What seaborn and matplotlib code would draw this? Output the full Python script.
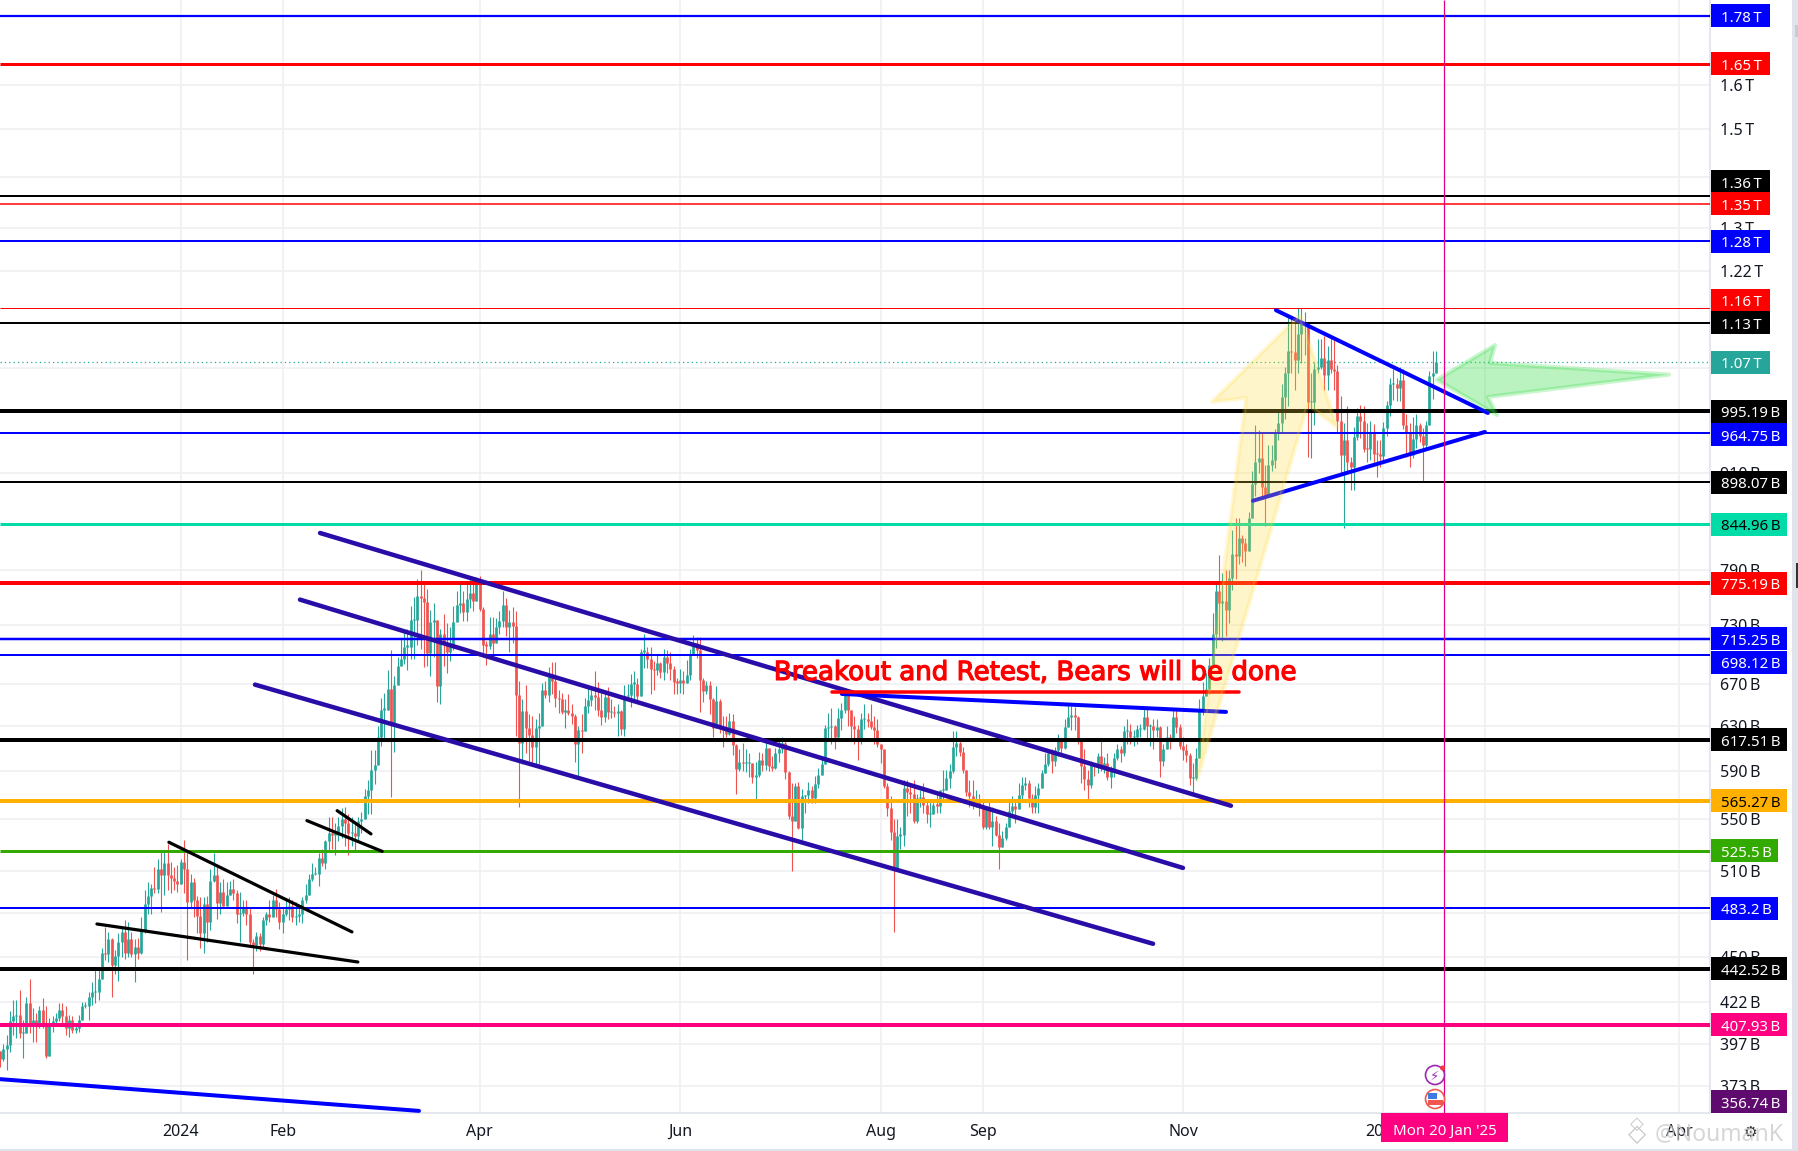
import numpy as np
import pandas as pd
import matplotlib
matplotlib.use("Agg")
import matplotlib.pyplot as plt
import matplotlib.dates as mdates
import matplotlib.patheffects as pe
from matplotlib.patches import Rectangle, Circle
from matplotlib.transforms import IdentityTransform
import seaborn as sns

# daily market cap candles, in billions, first candle is 2023-11-07
first_open = 393
closes = [
    388,394,396,410,413,414,403,403,421,408, 411,407,417,407,390,409,410,412,417,413,
    406,411,405,406,411,419,419,425,428,428, 436,453,452,462,445,451,460,467,453,462,
    452,457,453,468,486,492,498,497,512,507, 516,507,505,503,501,517,512,488,502,489,
    478,466,486,474,503,507,487,495,485,493, 497,494,479,480,484,479,460,458,464,459,
    475,479,477,489,483,474,479,483,485,477, 478,479,489,493,504,508,508,520,516,533,
    539,538,538,545,550,547,539,539,537,549, 550,569,574,591,595,620,645,645,665,632,
    669,687,694,707,707,735,735,761,759,754, 700,733,735,668,720,710,701,708,733,751,
    753,744,758,764,756,776,747,709,708,720, 711,727,734,751,727,733,729,659,615,644,
    628,622,611,628,630,664,659,678,673,656, 655,643,645,642,639,614,626,625,649,654,
    659,657,645,638,657,643,643,642,644,627, 658,659,670,670,658,702,702,694,684,683,
    690,681,696,690,684,672,671,674,671,678, 699,711,704,674,663,669,655,628,653,627,
    626,623,635,613,592,598,597,597,597,585, 587,600,595,610,594,593,606,609,615,589,
    553,549,577,543,569,570,574,567,579,587, 596,628,629,630,620,637,645,660,645,630,
    627,617,636,636,635,629,626,614,609,577, 559,540,511,537,538,576,572,571,549,567,
    568,562,554,554,562,561,574,574,584,590, 611,615,607,591,572,569,562,564,561,544,
    560,544,549,538,528,535,544,557,561,558, 570,578,580,567,560,570,576,588,596,606,
    599,608,619,610,629,638,640,638,618,594, 583,578,597,594,603,593,597,585,591,601,
    609,606,625,625,620,620,627,627,638,630, 630,626,629,599,609,620,618,638,629,612,
    608,604,584,584,601,645,658,665,688,720, 766,753,755,746,781,809,806,828,822,813,
    852,896,925,930,892,882,921,928,965,979, 1016,1052,1086,1085,1072,1113,1130,1132,1009,1009,
    1058,1062,1075,1050,1073,1058,1056,982,934,955, 925,918,959,989,981,943,942,966,936,935,
    933,972,1005,1035,1035,1029,1042,976,964,934, 956,976,960,948,976,1048,1052,1070,
]
highs = [
    393,397,402,416,423,423,429,411,425,436, 418,415,419,424,419,412,413,415,421,421,
    419,414,413,409,414,422,422,428,434,444, 444,456,470,467,463,455,466,470,475,474,
    467,462,463,477,496,502,501,513,519,526, 526,531,517,513,515,519,534,526,508,505,
    492,491,491,492,512,524,515,502,504,502, 503,504,496,495,489,489,484,462,467,466,
    477,481,489,493,497,488,484,490,491,489, 488,485,491,501,508,516,513,524,527,534,
    552,552,547,552,559,560,554,552,549,552, 556,575,582,608,608,630,656,661,683,704,
    677,696,716,723,725,750,760,780,790,777, 769,746,753,725,725,741,732,727,750,766,
    777,766,774,780,778,782,783,749,713,738, 738,737,745,766,759,746,749,745,673,655,
    669,641,639,636,642,671,673,686,691,691, 664,661,655,660,650,641,630,641,656,667,
    668,682,672,662,661,667,655,649,650,645, 669,670,679,682,675,705,720,707,707,692,
    698,691,705,704,702,687,675,684,682,693, 705,719,717,717,675,673,673,656,668,655,
    639,639,642,641,614,609,615,609,606,597, 598,607,606,616,610,603,610,616,620,616,
    590,580,580,581,575,566,581,577,586,593, 603,631,642,647,631,647,651,664,664,645,
    639,631,642,650,642,650,639,636,614,609, 580,569,550,550,544,582,582,580,582,571,
    574,580,566,564,566,571,574,591,591,596, 625,625,617,611,591,582,582,574,571,566,
    561,566,560,553,547,541,547,566,569,564, 580,585,585,582,571,577,580,591,606,609,
    609,611,623,617,636,650,649,648,639,617, 609,591,599,597,606,617,602,606,594,606,
    614,612,630,636,632,626,631,632,648,648, 632,636,636,630,614,630,623,647,645,632,
    620,614,606,597,610,655,672,680,695,742, 775,808,787,790,790,838,852,852,832,828,
    860,912,976,969,964,920,948,948,970,995, 1035,1062,1144,1141,1141,1157,1157,1150,1134,1052,
    1070,1105,1105,1111,1095,1108,1108,1065,1018,979, 1003,932,973,1000,1005,1003,979,981,977,955,
    955,980,1010,1045,1058,1045,1062,1058,991,979, 987,991,979,972,981,1055,1087,1087,
]
lows = [
    384,387,382,392,402,400,400,389,403,403, 398,398,406,406,389,390,404,408,410,408,
    402,401,403,403,404,411,418,411,420,421, 423,436,448,447,425,439,435,450,449,450,
    450,434,449,452,466,479,479,494,494,481, 493,496,494,496,495,501,494,448,484,477,
    466,456,453,460,468,502,476,479,486,486, 493,489,473,460,478,472,457,439,454,454,
    457,472,474,477,477,469,466,478,475,474, 472,474,473,487,493,503,507,499,514,512,
    525,527,522,533,535,529,522,529,526,532, 539,554,554,554,579,595,612,616,645,568,
    607,669,687,689,683,694,694,709,705,686, 687,677,696,652,650,687,680,692,704,733,
    742,734,734,748,745,756,745,696,688,705, 694,712,720,727,718,701,711,621,560,596,
    606,599,598,596,596,634,656,652,660,648, 642,641,628,640,632,598,583,606,626,642,
    649,645,639,631,634,636,637,638,621,622, 621,654,648,652,653,660,685,685,660,664,
    678,675,674,680,674,660,660,661,660,671, 674,698,695,643,652,660,641,620,628,624,
    611,620,622,604,571,590,590,589,585,580, 565,585,590,591,590,590,592,598,606,583,
    550,510,550,542,534,555,563,563,563,576, 588,597,617,614,609,617,626,642,630,617,
    614,600,614,627,629,627,614,611,597,576, 553,534,467,514,527,529,553,555,547,547,
    560,555,547,544,555,555,555,566,574,576, 588,603,603,588,569,560,558,560,553,542,
    542,542,529,537,512,529,534,544,553,547, 560,566,574,560,555,555,555,576,588,594,
    588,594,603,606,609,629,626,626,614,580, 574,565,576,586,588,590,588,582,576,585,
    600,598,603,614,614,612,614,620,626,617, 612,609,620,585,594,609,609,624,624,609,
    600,598,578,569,582,601,640,660,660,695, 706,717,713,718,732,768,780,797,800,795,
    838,853,880,910,880,843,885,912,916,955, 965,985,1003,1052,1027,1052,1068,1080,932,930,
    976,1052,1058,1027,1027,1052,1027,965,910,840, 910,888,888,955,958,938,925,928,925,905,
    918,925,960,988,1012,1011,1011,970,932,918, 930,944,952,898,943,976,1013,1052,
]

# horizontal levels: price, tag text, colour, line px, tag text colour, tag shift px
levels = [
    (1769, "1.78\u2009T", "#0000ff", 2.2, "white", 0),
    (1650, "1.65\u2009T", "#ff0000", 3, "white", 0),
    (1362, "1.36\u2009T", "#000000", 2, "white", 14),
    (1346, "1.35\u2009T", "#ff0000", 1.5, "white", 0),
    (1275, "1.28\u2009T", "#0000ff", 2, "white", 0),
    (1156, "1.16\u2009T", "#ff0000", 1, "white", 8),
    (1132, "1.13\u2009T", "#000000", 2, "white", 0),
    (995.19, "995.19\u2009B", "#000000", 4, "white", 0),
    (964.75, "964.75\u2009B", "#0000ff", 2, "white", -2),
    (898.07, "898.07\u2009B", "#000000", 2, "white", 0),
    (844.96, "844.96\u2009B", "#00dca8", 3, "black", 0),
    (775.19, "775.19\u2009B", "#ff0000", 4, "white", 0),
    (715.25, "715.25\u2009B", "#0000ff", 2.5, "white", 0),
    (698.12, "698.12\u2009B", "#0000ff", 2, "white", -7),
    (617.51, "617.51\u2009B", "#000000", 4, "white", 0),
    (565.27, "565.27\u2009B", "#ffb000", 4, "black", 0),
    (525.5, "525.5\u2009B", "#33aa00", 3, "white", 0),
    (483.2, "483.2\u2009B", "#0000ff", 2, "white", 0),
    (442.52, "442.52\u2009B", "#000000", 4, "white", 0),
    (407.93, "407.93\u2009B", "#ff0080", 4, "white", 0),
]
last_price = 1069
purple_price = 364.7

price_ticks = [1600, 1500, 1400, 1300, 1220, 1060, 910, 790, 730, 670, 630, 590, 550, 510, 480, 450, 422, 397, 373]
price_labels = ["1.6\u2009T", "1.5\u2009T", "", "1.3\u2009T", "1.22\u2009T", "", "910\u2009B", "790\u2009B", "730\u2009B",
                "670\u2009B", "630\u2009B", "590\u2009B", "550\u2009B", "510\u2009B", "", "450\u2009B", "422\u2009B",
                "397\u2009B", "373\u2009B"]
date_ticks = ["2024-01-01", "2024-02-01", "2024-04-01", "2024-06-01", "2024-08-01", "2024-09-01",
              "2024-11-01", "2025-01-01", "2025-02-01", "2025-04-01"]
date_labels = ["2024", "Feb", "Apr", "Jun", "Aug", "Sep", "Nov", "2025", "", "Apr"]

# drawings as (day offset, price) pairs
channel_lines = [((97.4, 834), (374.6, 561)), ((91.3, 757), (360, 512.5)), ((77.6, 669), (350.9, 459))]
black_lines = [((51.4, 532), (107.1, 467)), ((29.5, 472.4), (108.9, 447)),
               ((93.4, 549), (116.3, 525)), ((102.6, 557), (112.9, 538.5))]
blue_lines = [((256.2, 660), (373.1, 643)), ((388.3, 1153), (452.8, 993)),
              ((381.3, 874), (451.9, 966)), ((0, 377), (127.5, 360))]
red_line = ((253.2, 662), (377.1, 662))
yellow_arrow = [(364.3, 582.5), (379.2, 1015), (368.8, 1009), (395.6, 1145), (406.9, 973), (398, 1005)]
green_arrow = [(437.3, 1042), (455, 1096), (453.4, 1068), (507.9, 1050), (452.8, 1016.4), (455.6, 990)]

W, H, AX_W, AX_H = 1799, 1151, 1710, 1113
px_per_day = 3.286
start = pd.Timestamp("2023-11-07")
start_num = mdates.date2num(start)
cursor_date = pd.Timestamp("2025-01-19 12:00")

sns.set_theme(style="white")
plt.rcParams["font.family"] = ["Noto Sans", "DejaVu Sans"]
plt.rcParams["lines.solid_capstyle"] = "butt"

fig = plt.figure(figsize=(W / 100, H / 100), dpi=100)
ax = fig.add_axes([0, (H - AX_H) / H, AX_W / W, AX_H / H])

closes_arr = np.array(closes, dtype=float)
opens_arr = np.r_[first_open, closes_arr[:-1]]
highs_arr = np.maximum.reduce([np.array(highs, dtype=float), opens_arr, closes_arr])
lows_arr = np.minimum.reduce([np.array(lows, dtype=float), opens_arr, closes_arr])
days = pd.date_range(start, periods=len(closes), freq="D")
direction = np.where(closes_arr >= opens_arr, "up", "down")
# a flat candle still shows as a thin tick
body_top = np.maximum(np.maximum(opens_arr, closes_arr), np.minimum(opens_arr, closes_arr) * 1.002)
body_bot = np.minimum(opens_arr, closes_arr)

def long_table(lo, hi):
    return pd.DataFrame({
        "date": np.r_[days, days],
        "price": np.r_[lo, hi],
        "candle": np.r_[np.arange(len(days)), np.arange(len(days))],
        "dir": np.r_[direction, direction],
    })

palette = {"up": "#26a69a", "down": "#ef5350"}
sns.lineplot(data=long_table(lows_arr, highs_arr), x="date", y="price", units="candle", estimator=None,
             hue="dir", palette=palette, linewidth=0.8, legend=False, ax=ax, zorder=2)
sns.lineplot(data=long_table(body_bot, body_top), x="date", y="price", units="candle", estimator=None,
             hue="dir", palette=palette, linewidth=1.95, legend=False, ax=ax, zorder=2)

ax.set_yscale("log")
ax.set_ylim(358.9, 1810)
ax.set_xlim(start_num, start_num + AX_W / px_per_day)
ax.set_xlabel("")
ax.set_ylabel("")
ax.yaxis.tick_right()
ax.minorticks_off()
ax.set_yticks(price_ticks, price_labels)
ax.yaxis.set_minor_locator(matplotlib.ticker.NullLocator())
ax.set_xticks(mdates.date2num(pd.to_datetime(date_ticks)), date_labels)
ax.tick_params(axis="y", length=0, pad=7.5, labelsize=11.5, labelcolor="#131722")
ax.tick_params(axis="x", length=0, pad=8, labelsize=11.5, labelcolor="#131722")
for lab in ax.get_xticklabels():
    if lab.get_text() in ("2024", "2025"):
        lab.set_fontweight("bold")
ax.grid(True, color="#f0f0f2", linewidth=1.2)
ax.set_axisbelow(True)
for side in ("top", "left"):
    ax.spines[side].set_visible(False)
for side in ("right", "bottom"):
    ax.spines[side].set_color("#e0e3eb")
    ax.spines[side].set_linewidth(1.2)

for price, _, color, width, _, _ in levels:
    ax.axhline(price, color=color, linewidth=width * 0.72, zorder=3)
ax.axhline(last_price, color="#26a69a", linewidth=0.9, linestyle=(0, (1, 2.5)), zorder=3)

def draw_line(pair, color, px):
    (d0, p0), (d1, p1) = pair
    ax.plot([start_num + d0, start_num + d1], [p0, p1], color=color, linewidth=px * 0.72,
            solid_capstyle="round", zorder=4)

for pair in channel_lines:
    draw_line(pair, "#2a0ca8", 4.5)
for pair in black_lines:
    draw_line(pair, "#000000", 3.2)
for pair in blue_lines:
    draw_line(pair, "#0000ff", 4)
draw_line(red_line, "#ff0000", 3.5)

def draw_arrow(points, face, edge):
    xs = [start_num + p[0] for p in points]
    ys = [p[1] for p in points]
    ax.fill(xs, ys, facecolor=face, edgecolor=edge, linewidth=3, joinstyle="round", zorder=5)

draw_arrow(yellow_arrow, (1.0, 0.86, 0.2, 0.26), (1.0, 0.86, 0.2, 0.2))
draw_arrow(green_arrow, (0.18, 0.86, 0.25, 0.33), (0.18, 0.86, 0.25, 0.25))

ax.text(start_num + 235.5, 680.5, "Breakout and Retest, Bears will be done", color="#ff0000",
        fontsize=18.8, family="DejaVu Sans", va="center", ha="left", zorder=6,
        path_effects=[pe.withStroke(linewidth=0.9, foreground="#ff0000")])
ax.axvline(mdates.date2num(cursor_date), color="#e0007f", linewidth=0.9, zorder=6)

# everything below sits outside the plot area, placed in pixels
def fig_rect(x, top, w, h, color, **kw):
    fig.add_artist(Rectangle((x, H - top - h), w, h, transform=IdentityTransform(),
                             facecolor=color, edgecolor="none", **kw))

def fig_text(x, y, s, color, **kw):
    fig.text(x, H - y, s, color=color, transform=IdentityTransform(), va="center_baseline", **kw)

def price_y(price):
    return ax.transData.transform((start_num, price))[1]

def add_tag(price, label, color, text_color, shift=0):
    y = price_y(price) + shift
    width = 59 if label.endswith("T") else (67 if label.startswith(("525.5", "483.2")) else 76)
    fig.add_artist(Rectangle((AX_W + 1, y - 11.5), width, 23, transform=IdentityTransform(),
                             facecolor=color, edgecolor="none", zorder=4))
    fig.text(AX_W + 11, y - 0.5, label, color=text_color, fontsize=10.8, weight="bold",
             transform=IdentityTransform(), va="center_baseline", zorder=5)

for price, label, color, _, text_color, shift in levels:
    add_tag(price, label, color, text_color, shift)
add_tag(last_price, "1.07\u2009T", "#26a69a", "white")
add_tag(purple_price, "356.74\u2009B", "#5e0a6e", "white")

# date tag under the cursor
fig_rect(1381, 1113, 127, 29, "#ff0080", zorder=4)
fig_text(1444.5, 1129, "Mon 20 Jan '25", "white", fontsize=10.8, weight="bold", ha="center", zorder=5)

# event icons on the cursor line
for cy, edge in ((1075, "#9c27b0"), (1099, "#f0584f")):
    fig.add_artist(Circle((1435, H - cy), 9.5, transform=IdentityTransform(), facecolor="white",
                          edgecolor=edge, linewidth=1.2, zorder=4))
fig_text(1435, 1075, "\u26a1", "#9c27b0", fontsize=9.5, family="DejaVu Sans", ha="center", zorder=5)
fig.add_artist(Circle((1442.5, H - 1068), 2.5, transform=IdentityTransform(), facecolor="#f23645",
                      edgecolor="none", zorder=5))
fig_rect(1428, 1100, 15, 5, "#f0584f", zorder=5)
fig_rect(1428, 1093, 9, 6, "#3d7be0", zorder=5)

# watermark and right edge bits
fig_text(1655, 1131, "@NoumanK", "#c9c9c9", fontsize=16.5, alpha=0.75, zorder=6)
for dy, size in ((-7, 13), (3, 17)):
    fig.text(1637, H - 1131 - dy, "\u25c7", color="#c9c9c9", fontsize=size, family="DejaVu Sans",
             ha="center", va="center", transform=IdentityTransform(), zorder=6)
fig_text(1750, 1131, "\u2699", "#333333", fontsize=11, family="DejaVu Sans", ha="center", zorder=5)
fig_rect(1792, 0, 7, H, "#e0e3eb", zorder=2)
fig_rect(0, 1149, 1792, 1.5, "#e0e3eb", zorder=2)
fig_rect(1795, 25, 4, 12, "#c8cbd4", zorder=3)
fig_rect(1796, 563, 3, 25, "#333333", zorder=3)

fig.savefig("out.png", dpi=100)
